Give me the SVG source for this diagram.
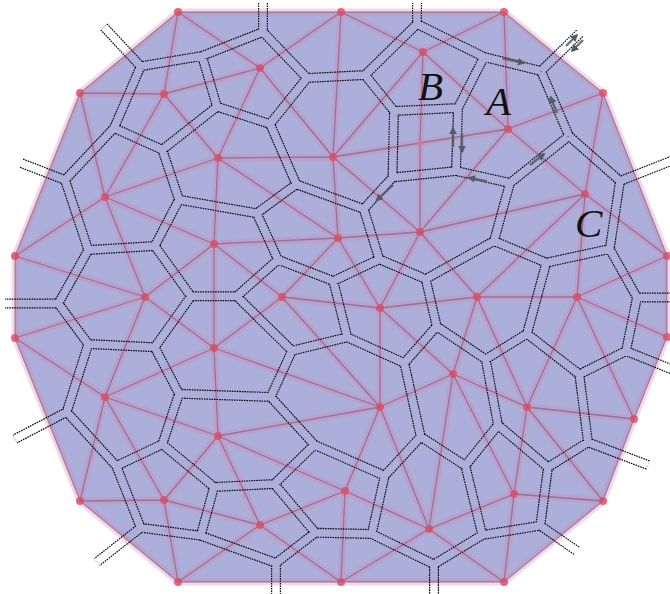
<svg xmlns="http://www.w3.org/2000/svg" xmlns:xlink="http://www.w3.org/1999/xlink" width="670" height="594" viewBox="0 0 670 594">
<style>
.halo{fill:none;stroke:#e27aa8;stroke-opacity:.3;stroke-width:7;stroke-linejoin:round;stroke-linecap:round}
.core{fill:none;stroke:#4a4060;stroke-opacity:.42;stroke-width:1.3;stroke-linejoin:round}
.dot{fill:#e04a62;fill-opacity:.8}
.dotl{fill:#e8788a;fill-opacity:.55}
.arr{fill:none;stroke:#555a66;stroke-width:2.4;stroke-opacity:.85}
.lbl{font-family:"Liberation Serif","DejaVu Serif",serif;font-style:italic;font-size:41px;fill:#111}
</style>
<defs>
<path id="del" d="M178,12L341,12L504,12L603,93L667,256L667,337L634,419L603,501L504,582L341,582L178,582L80,501L15,338L15,256L80,93Z
M178,12L260,68M178,12L164,94M341,12L260,68M341,12L333,157M341,12L423,52M504,12L423,52M504,12L508,129M603,93L508,129M603,93L585,194M667,256L585,194M667,256L577,297M667,337L577,297M634,419L577,297M634,419L527,407M603,501L527,407M603,501L514,494M504,582L514,494M504,582L429,529M341,582L429,529M341,582L345,491M341,582L260,525M178,582L260,525M178,582L164,500M80,501L164,500M80,501L105,397M15,338L105,397M15,338L145,297M15,256L145,297M15,256L105,197M80,93L164,94M80,93L105,197
M260,68L164,94M260,68L218,158M260,68L333,157M164,94L218,158M164,94L105,197M423,52L508,129M423,52L420,143M423,52L333,157M508,129L420,143M508,129L585,194M508,129L420,232M420,143L333,157M420,143L420,232M218,158L333,157M218,158L105,197M218,158L338,238M218,158L214,244M333,157L338,238M333,157L420,232M105,197L214,244M105,197L145,297M585,194L420,232M585,194L477,297M585,194L577,297M338,238L420,232M338,238L214,244M338,238L282,297M338,238L380,308M420,232L380,308M420,232L477,297M214,244L145,297M214,244L282,297M214,244L214,348M145,297L214,348M145,297L105,397M282,297L380,308M282,297L214,348M282,297L380,407M380,308L477,297M380,308L453,374M380,308L380,407M477,297L577,297M477,297L453,374M477,297L527,407M577,297L527,407M214,348L105,397M214,348L380,407M214,348L218,436M453,374L380,407M453,374L527,407M453,374L429,529M453,374L514,494M105,397L218,436M105,397L164,500M380,407L218,436M380,407L345,491M380,407L429,529M527,407L514,494M218,436L164,500M218,436L260,525M218,436L345,491M164,500L260,525M260,525L345,491M345,491L429,529M429,529L514,494"/>
<path id="vor" fill="none" stroke-linecap="butt" d="M202,56L263,32M140.7,66.3L202,56M263,32L307,78M307,78L365,75M365,75L417,24M417,24L484,57M484,57L541,71M541,71L569,136M569,136L620,181M620,181L609.7,249M609.7,249L637,297.5M637,297.5L626,351M626,351L579.3,374.3M579.3,374.3L588,442.3M588,442.3L548,467.3M548,467.3L540.3,525.7M540.3,525.7L482.3,535M482.3,535L434,564.3M434,564.3L371.7,534M371.7,534L315.3,532.7M315.3,532.7L276,563M276,563L200.7,535.7M200.7,535.7L140.7,527.7M140.7,527.7L116.3,466M116.3,466L66.7,412M66.7,412L88.3,344M88.3,344L58.3,303.5M58.3,303.5L88.3,250M88.3,250L65,180M65,180L114,128M114,128L140.7,66.3
M202,56L217,106.7M217,106.7L270,124M270,124L307,78M217,106.7L162.3,149.7M162.3,149.7L114,128M484,57L458,108M458,108L394,111M394,111L365,75M458,108L456,171M569,136L510,183M510,183L456,171M394,111L392.5,177.5M392.5,177.5L456,171M270,124L296.3,184.3M162.3,149.7L179,199.7M296.3,184.3L256.7,213.3M256.7,213.3L179,199.7M296.3,184.3L363.7,209M363.7,209L392.5,177.5M179,199.7L154.7,246M154.7,246L88.3,250M510,183L494,241M494,241L546.3,262.7M546.3,262.7L609.7,249M363.7,209L379.3,259.3M256.7,213.3L278,259.7M278,259.7L333.3,281M333.3,281L379.3,259.3M379.3,259.3L425.7,279M425.7,279L494,241M154.7,246L191,296.3M278,259.7L236.7,296.3M236.7,296.3L191,296.3M191,296.3L154.7,347.3M154.7,347.3L88.3,344M333.3,281L347.3,337.3M236.7,296.3L292,350.7M292,350.7L347.3,337.3M425.7,279L436.7,326.3M436.7,326.3L404.3,363M404.3,363L347.3,337.3M546.3,262.7L527,333.7M436.7,326.3L485.7,359.3M527,333.7L485.7,359.3M527,333.7L579.3,374.3M154.7,347.3L179,393.7M292,350.7L270.7,397M270.7,397L179,393.7M404.3,363L420.7,436.7M485.7,359.3L498,425M465.3,465.7L420.7,436.7M498,425L465.3,465.7M179,393.7L162.3,444.3M162.3,444.3L116.3,466M270.7,397L314.3,444.7M314.3,444.7L384.7,475.7M384.7,475.7L420.7,436.7M498,425L548,467.3M162.3,444.3L214,487M214,487L274.3,484M274.3,484L314.3,444.7M214,487L200.7,535.7M274.3,484L315.3,532.7M384.7,475.7L371.7,534M465.3,465.7L482.3,535
M140.7,66.3L104,27M263,32L263,3M417,24L417,3M541,71L580,33M620,181L690,153.5M637,297.5L690,297.5M626,351L690,376.7M588,442.3L648,465M540.3,525.7L577,551M434,564.3L434,610M276,563L276,610M140.7,527.7L97,562M66.7,412L15,439M58.3,303.5L5,303.5M65,180L21,163"/>
<mask id="vm" maskUnits="userSpaceOnUse" x="-30" y="-30" width="730" height="654">
<rect x="-30" y="-30" width="730" height="654" fill="#000"/>
<use xlink:href="#vor" stroke="#fff" stroke-width="10" stroke-dasharray="1.6 0.9"/>
<use xlink:href="#vor" stroke="#000" stroke-width="7.6"/>
</mask>
<marker id="ah" viewBox="0 0 10 10" refX="8" refY="5" markerWidth="3.2" markerHeight="3.2" orient="auto" markerUnits="strokeWidth">
<path d="M0,0L10,5L0,10Z" fill="#555a66"/>
</marker>
</defs>
<polygon id="hull" points="178,12 341,12 504,12 603,93 667,256 667,337 634,419 603,501 504,582 341,582 178,582 80,501 15,338 15,256 80,93" fill="#acafd9"/>
<g id="connectors">
<use xlink:href="#del" class="halo"/>
<use xlink:href="#del" class="core"/>
<rect x="0" y="0" width="670" height="594" fill="#0a0a10" mask="url(#vm)"/>
</g>
<g id="nodes">
<g id="h1"><circle class="dot" cx="178" cy="12" r="4"/></g>
<g id="h2"><circle class="dot" cx="341" cy="12" r="4"/></g>
<g id="h3"><circle class="dot" cx="504" cy="12" r="4"/></g>
<g id="h4"><circle class="dot" cx="603" cy="93" r="4"/></g>
<g id="h5"><circle class="dot" cx="667" cy="256" r="4"/></g>
<g id="h6"><circle class="dot" cx="667" cy="337" r="4"/></g>
<g id="h7"><circle class="dot" cx="634" cy="419" r="4"/></g>
<g id="h8"><circle class="dot" cx="603" cy="501" r="4"/></g>
<g id="h9"><circle class="dot" cx="504" cy="582" r="4"/></g>
<g id="h10"><circle class="dot" cx="341" cy="582" r="4"/></g>
<g id="h11"><circle class="dot" cx="178" cy="582" r="4"/></g>
<g id="h12"><circle class="dot" cx="80" cy="501" r="4"/></g>
<g id="h13"><circle class="dot" cx="15" cy="338" r="4"/></g>
<g id="h14"><circle class="dot" cx="15" cy="256" r="4"/></g>
<g id="h15"><circle class="dot" cx="80" cy="93" r="4"/></g>
<g id="p1"><circle class="dot" cx="260" cy="68" r="4"/></g>
<g id="p2"><circle class="dot" cx="164" cy="94" r="4"/></g>
<g id="p3"><circle class="dot" cx="423" cy="52" r="4"/></g>
<g id="p4"><circle class="dot" cx="508" cy="129" r="4"/></g>
<g id="p5"><circle class="dotl" cx="420" cy="143" r="3.5"/></g>
<g id="p6"><circle class="dot" cx="218" cy="158" r="4"/></g>
<g id="p7"><circle class="dot" cx="333" cy="157" r="4"/></g>
<g id="p8"><circle class="dot" cx="105" cy="197" r="4"/></g>
<g id="p9"><circle class="dot" cx="585" cy="194" r="4"/></g>
<g id="p10"><circle class="dot" cx="338" cy="238" r="4"/></g>
<g id="p11"><circle class="dot" cx="420" cy="232" r="4"/></g>
<g id="p12"><circle class="dot" cx="214" cy="244" r="4"/></g>
<g id="p13"><circle class="dot" cx="145" cy="297" r="4"/></g>
<g id="p14"><circle class="dot" cx="282" cy="297" r="4"/></g>
<g id="p15"><circle class="dot" cx="380" cy="308" r="4"/></g>
<g id="p16"><circle class="dot" cx="477" cy="297" r="4"/></g>
<g id="p17"><circle class="dot" cx="577" cy="297" r="4"/></g>
<g id="p18"><circle class="dot" cx="214" cy="348" r="4"/></g>
<g id="p19"><circle class="dot" cx="453" cy="374" r="4"/></g>
<g id="p20"><circle class="dot" cx="105" cy="397" r="4"/></g>
<g id="p21"><circle class="dot" cx="380" cy="407" r="4"/></g>
<g id="p22"><circle class="dot" cx="527" cy="407" r="4"/></g>
<g id="p23"><circle class="dot" cx="218" cy="436" r="4"/></g>
<g id="p24"><circle class="dot" cx="164" cy="500" r="4"/></g>
<g id="p25"><circle class="dot" cx="260" cy="525" r="4"/></g>
<g id="p26"><circle class="dot" cx="345" cy="491" r="4"/></g>
<g id="p27"><circle class="dot" cx="429" cy="529" r="4"/></g>
<g id="p28"><circle class="dot" cx="514" cy="494" r="4"/></g>
</g>
<g id="halfedges">
<path class="arr" marker-end="url(#ah)" d="M503,58.5L524,63"/>
<path class="arr" marker-end="url(#ah)" d="M557,113L550.5,97"/>
<path class="arr" marker-end="url(#ah)" d="M530,165L544,154"/>
<path class="arr" marker-end="url(#ah)" d="M487,181.5L469,177.8"/>
<path class="arr" marker-end="url(#ah)" d="M453,147L453,128"/>
<path class="arr" marker-end="url(#ah)" d="M462,133L462,152"/>
<path class="arr" marker-end="url(#ah)" d="M393,185L376.5,200.5"/>
<path class="arr" marker-end="url(#ah)" d="M566,46L577,35"/>
<path class="arr" marker-end="url(#ah)" d="M583,40L572,51"/>
</g>
<text class="lbl" x="418" y="100">B</text>
<text class="lbl" x="486" y="115">A</text>
<text class="lbl" x="575" y="237">C</text>
</svg>
